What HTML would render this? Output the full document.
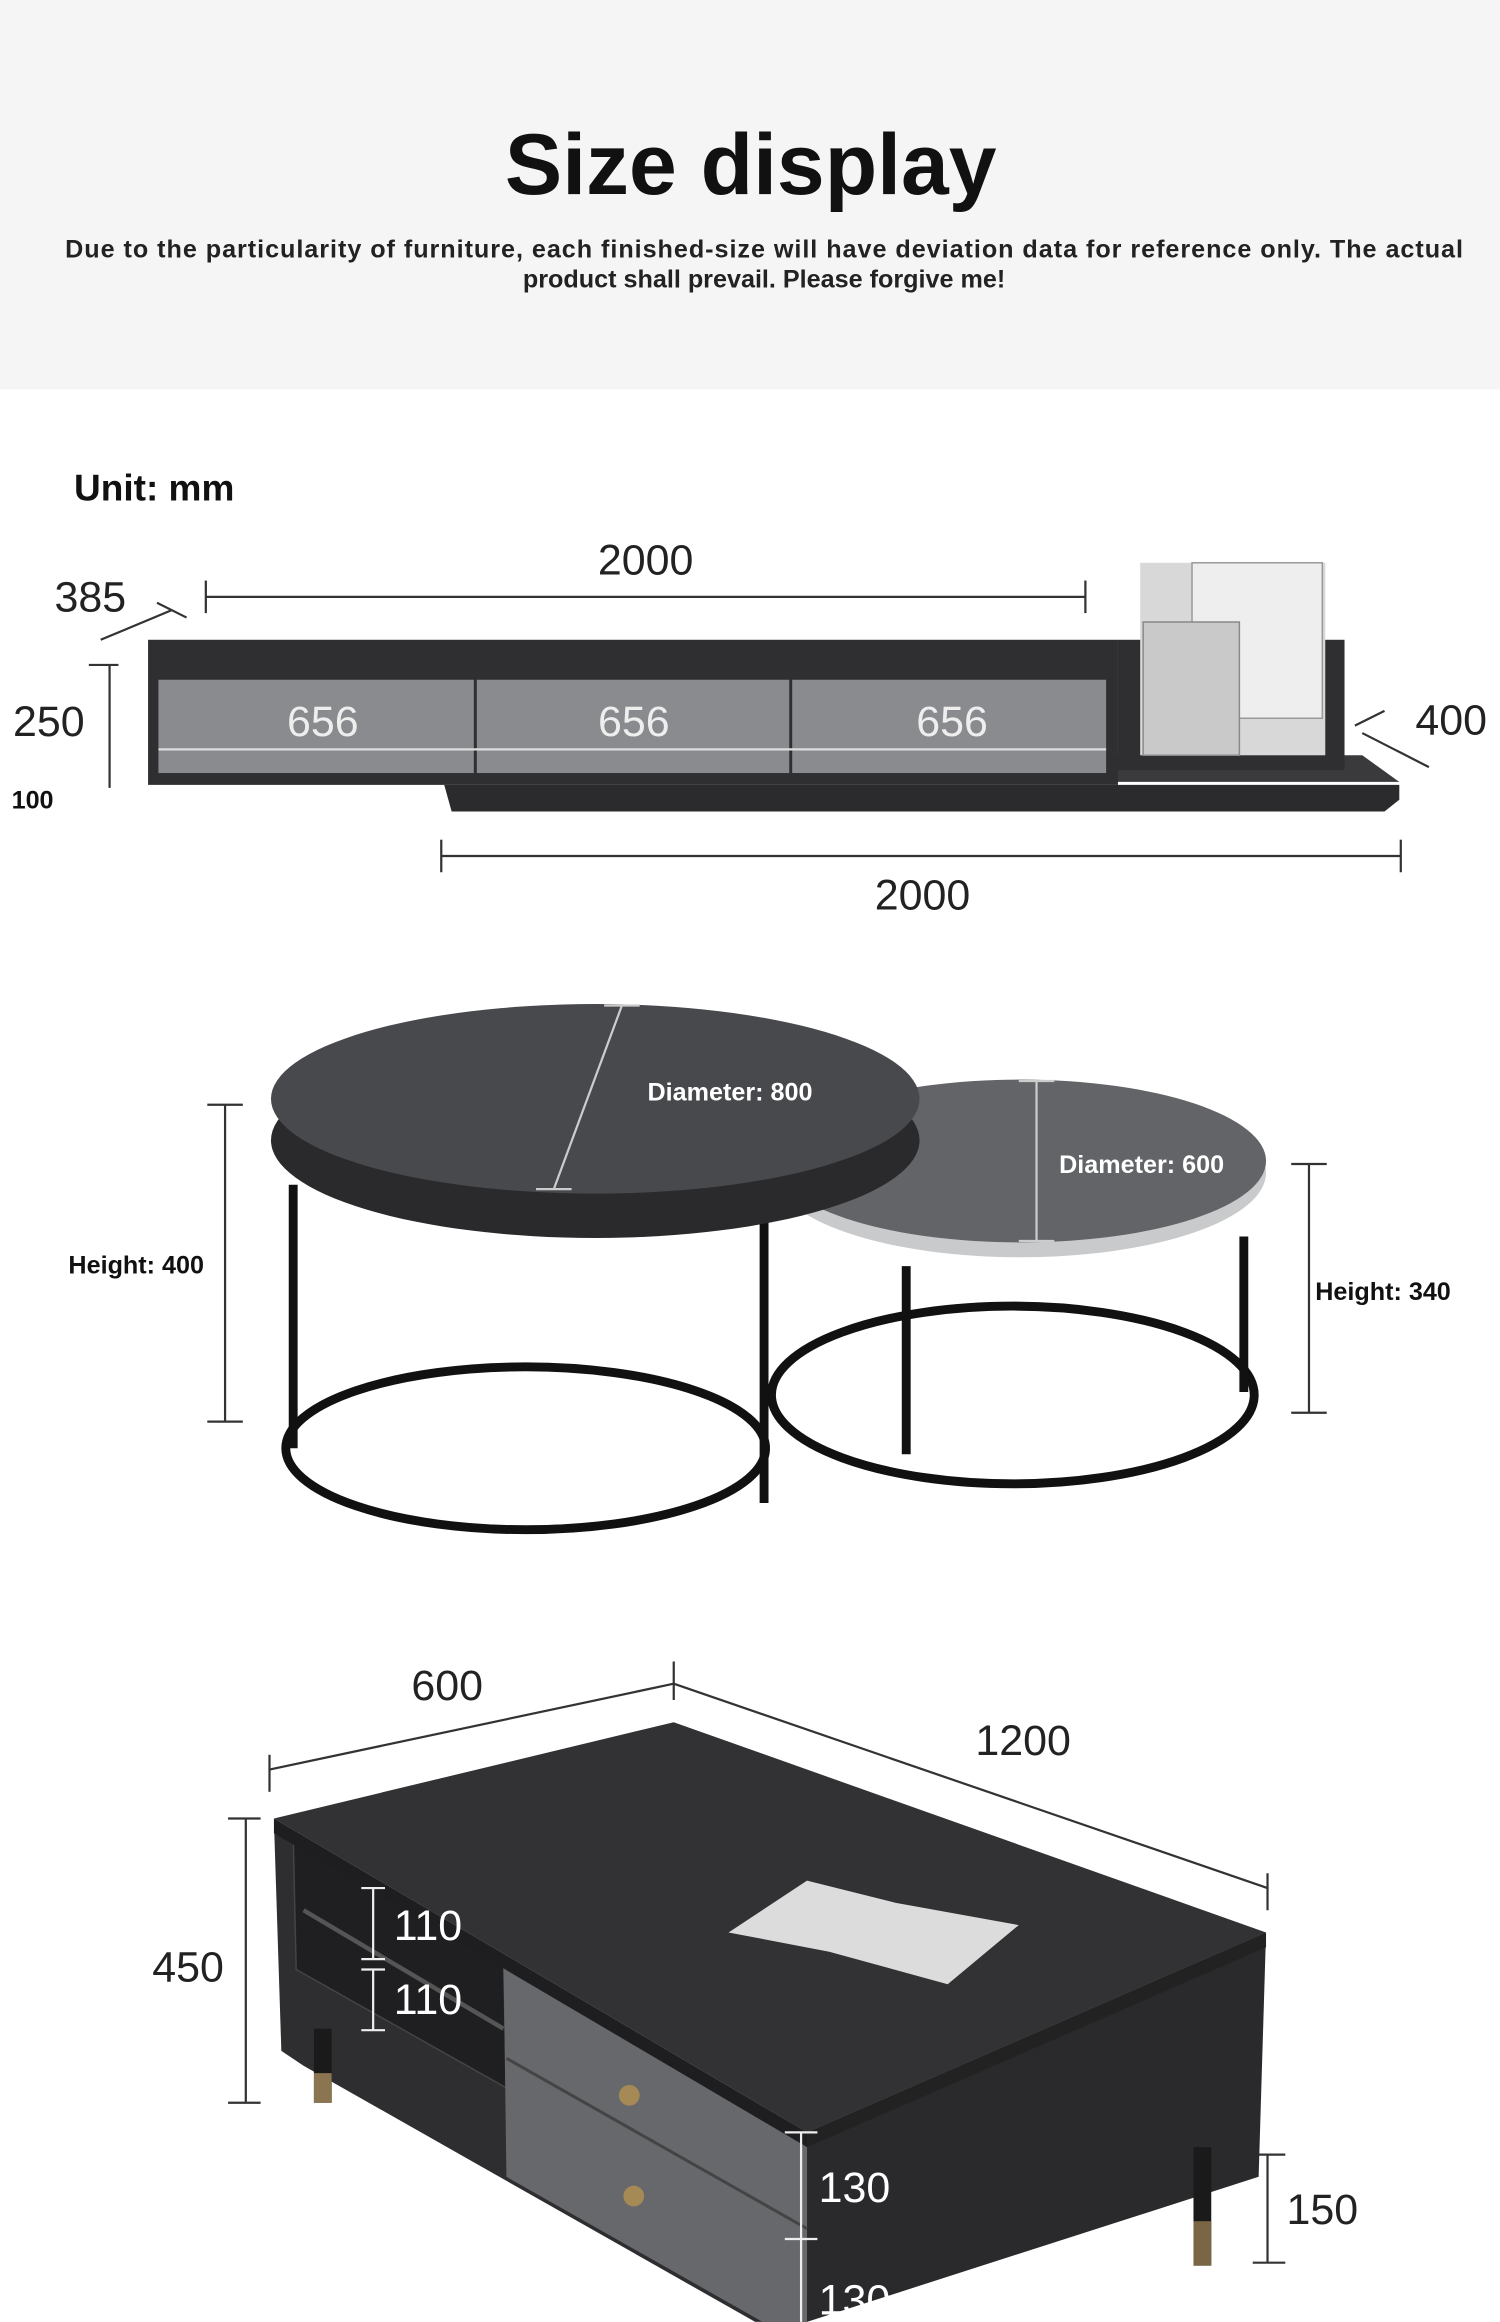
<!DOCTYPE html>
<html><head><meta charset="utf-8"><style>
html,body{margin:0;padding:0;background:#fff;}
svg{display:block}
text{font-family:"Liberation Sans",sans-serif;}
</style></head><body>
<svg width="1500" height="2322" viewBox="0 0 1013 1568" xmlns="http://www.w3.org/2000/svg">
<rect x="0" y="0" width="1013" height="263" fill="#f5f5f5"/>
<text x="507" y="131" font-size="58" font-weight="bold" text-anchor="middle" fill="#111">Size display</text>
<text x="516" y="174" font-size="17" font-weight="bold" text-anchor="middle" fill="#222" textLength="944">Due to the particularity of furniture, each finished-size will have deviation data for reference only. The actual</text>
<text x="516" y="194" font-size="17" font-weight="bold" text-anchor="middle" fill="#222">product shall prevail. Please forgive me!</text>
<text x="50" y="338" font-size="25" font-weight="bold" fill="#111">Unit: mm</text>

<!-- TV cabinet -->
<g stroke="#333" stroke-width="1.5" fill="none">
<line x1="139" y1="403" x2="733" y2="403"/><line x1="139" y1="392" x2="139" y2="414"/><line x1="733" y1="392" x2="733" y2="414"/>
<line x1="298" y1="578" x2="946" y2="578"/><line x1="298" y1="567" x2="298" y2="589"/><line x1="946" y1="567" x2="946" y2="589"/>
<line x1="74" y1="449" x2="74" y2="532"/><line x1="60" y1="449" x2="80" y2="449"/>
<line x1="68" y1="432" x2="116" y2="412"/><line x1="106" y1="407" x2="126" y2="417"/>
<line x1="920" y1="495" x2="965" y2="518"/><line x1="915" y1="490" x2="935" y2="480"/>
</g>
<text x="436" y="388" font-size="29" text-anchor="middle" fill="#222">2000</text>
<text x="623" y="614" font-size="29" text-anchor="middle" fill="#222">2000</text>
<text x="61" y="413" font-size="29" text-anchor="middle" fill="#222">385</text>
<text x="33" y="497" font-size="29" text-anchor="middle" fill="#222">250</text>
<text x="22" y="546" font-size="17" font-weight="bold" text-anchor="middle" fill="#111">100</text>
<text x="980" y="496" font-size="29" text-anchor="middle" fill="#222">400</text>
<polygon points="300,530 945,530 945,540 935,548 305,548" fill="#2b2b2e"/>
<polygon points="750,510 920,510 945,528 750,528" fill="#3a3a3d"/>
<rect x="100" y="432" width="655" height="98" fill="#2f2f32"/>
<rect x="755" y="432" width="153" height="88" fill="#2f2f32"/>
<rect x="770" y="380" width="125" height="130" fill="#d8d8d8"/>
<rect x="805" y="380" width="88" height="105" fill="#eee" stroke="#999"/>
<rect x="772" y="420" width="65" height="90" fill="#c9c9c9" stroke="#888"/>
<rect x="107" y="459" width="213" height="63" fill="#8a8b8e"/>
<rect x="322" y="459" width="211" height="63" fill="#8a8b8e"/>
<rect x="535" y="459" width="212" height="63" fill="#8a8b8e"/>
<line x1="107" y1="506" x2="747" y2="506" stroke="#ddd" stroke-width="1.5"/>
<text x="218" y="497" font-size="29" text-anchor="middle" fill="#eee">656</text>
<text x="428" y="497" font-size="29" text-anchor="middle" fill="#eee">656</text>
<text x="643" y="497" font-size="29" text-anchor="middle" fill="#eee">656</text>

<!-- round tables -->
<g stroke="#111" stroke-width="6" fill="none">
<ellipse cx="684" cy="942" rx="163" ry="60"/>
<line x1="612" y1="855" x2="612" y2="982"/><line x1="840" y1="835" x2="840" y2="940"/>
</g>
<ellipse cx="689" cy="792" rx="166" ry="57" fill="#c9cacc"/>
<ellipse cx="689" cy="784" rx="166" ry="55" fill="#636467"/>
<g stroke="#111" stroke-width="6" fill="none">
<ellipse cx="355" cy="978" rx="162" ry="55"/>
<line x1="198" y1="800" x2="198" y2="978"/><line x1="516" y1="820" x2="516" y2="1015"/>
</g>
<ellipse cx="402" cy="770" rx="219" ry="66" fill="#2a2a2d"/>
<ellipse cx="402" cy="742" rx="219" ry="64" fill="#48494c"/>
<g stroke="#ccc" stroke-width="1.5">
<line x1="420" y1="679" x2="374" y2="803"/><line x1="408" y1="679" x2="432" y2="679"/><line x1="362" y1="803" x2="386" y2="803"/>
<line x1="700" y1="730" x2="700" y2="838"/><line x1="688" y1="730" x2="712" y2="730"/><line x1="688" y1="838" x2="712" y2="838"/>
</g>
<text x="493" y="743" font-size="17" font-weight="bold" text-anchor="middle" fill="#fff">Diameter: 800</text>
<text x="771" y="792" font-size="17" font-weight="bold" text-anchor="middle" fill="#fff">Diameter: 600</text>
<g stroke="#333" stroke-width="1.5">
<line x1="152" y1="746" x2="152" y2="960"/><line x1="140" y1="746" x2="164" y2="746"/><line x1="140" y1="960" x2="164" y2="960"/>
<line x1="884" y1="786" x2="884" y2="954"/><line x1="872" y1="786" x2="896" y2="786"/><line x1="872" y1="954" x2="896" y2="954"/>
</g>
<text x="92" y="860" font-size="17" font-weight="bold" text-anchor="middle" fill="#111">Height: 400</text>
<text x="934" y="878" font-size="17" font-weight="bold" text-anchor="middle" fill="#111">Height: 340</text>

<!-- rectangular table -->
<g stroke="#333" stroke-width="1.5">
<line x1="182" y1="1195" x2="455" y2="1137"/><line x1="182" y1="1185" x2="182" y2="1210"/><line x1="455" y1="1122" x2="455" y2="1148"/>
<line x1="455" y1="1137" x2="856" y2="1275"/><line x1="856" y1="1265" x2="856" y2="1290"/>
<line x1="166" y1="1228" x2="166" y2="1420"/><line x1="154" y1="1228" x2="176" y2="1228"/><line x1="154" y1="1420" x2="176" y2="1420"/>
<line x1="856" y1="1455" x2="856" y2="1528"/><line x1="846" y1="1455" x2="868" y2="1455"/><line x1="846" y1="1528" x2="868" y2="1528"/>
</g>
<text x="302" y="1148" font-size="29" text-anchor="middle" fill="#222">600</text>
<text x="691" y="1185" font-size="29" text-anchor="middle" fill="#222">1200</text>
<text x="127" y="1338" font-size="29" text-anchor="middle" fill="#222">450</text>
<text x="893" y="1502" font-size="29" text-anchor="middle" fill="#222">150</text>
<polygon points="185,1230 545,1440 545,1568 510,1568 205,1395 190,1385" fill="#2e2e31"/>
<polygon points="545,1440 855,1305 850,1470 545,1568" fill="#2a2a2d"/>
<rect x="806" y="1450" width="12" height="80" fill="#1a1a1a"/>
<rect x="806" y="1500" width="12" height="30" fill="#7a6645"/>
<rect x="212" y="1370" width="12" height="50" fill="#1a1a1a"/>
<rect x="212" y="1400" width="12" height="20" fill="#8a7550"/>
<polygon points="198,1240 340,1322 342,1410 200,1330" fill="#1f1f22" stroke="#444"/>
<line x1="205" y1="1290" x2="340" y2="1370" stroke="#555" stroke-width="3"/>
<polygon points="340,1322 545,1440 545,1568 515,1568 342,1470" fill="#67686b"/>
<line x1="342" y1="1390" x2="545" y2="1505" stroke="#444" stroke-width="2"/>
<circle cx="425" cy="1415" r="7" fill="#a68a55"/>
<circle cx="428" cy="1483" r="7" fill="#a68a55"/>
<polygon points="185,1228 455,1163 855,1305 545,1440" fill="#323235"/>
<polygon points="185,1228 545,1440 545,1450 185,1238" fill="#1e1e20"/>
<polygon points="545,1440 855,1305 855,1315 545,1450" fill="#222"/>
<polygon points="492,1305 545,1270 605,1285 688,1300 640,1340 560,1318" fill="#dcdcdc"/>
<g stroke="#eee" stroke-width="1.5">
<line x1="252" y1="1275" x2="252" y2="1323"/><line x1="244" y1="1275" x2="260" y2="1275"/><line x1="244" y1="1323" x2="260" y2="1323"/>
<line x1="252" y1="1330" x2="252" y2="1371"/><line x1="244" y1="1330" x2="260" y2="1330"/><line x1="244" y1="1371" x2="260" y2="1371"/>
<line x1="541" y1="1440" x2="541" y2="1568"/><line x1="530" y1="1440" x2="552" y2="1440"/><line x1="530" y1="1512" x2="552" y2="1512"/>
</g>
<text x="289" y="1310" font-size="29" text-anchor="middle" fill="#fff">110</text>
<text x="289" y="1360" font-size="29" text-anchor="middle" fill="#fff">110</text>
<text x="577" y="1487" font-size="29" text-anchor="middle" fill="#fff">130</text>
<text x="577" y="1563" font-size="29" text-anchor="middle" fill="#fff">130</text>
</svg>
</body></html>
